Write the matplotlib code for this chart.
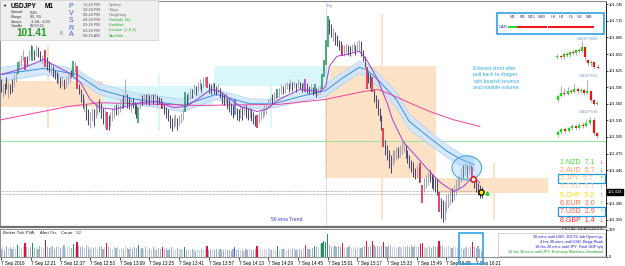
import numpy as np
import matplotlib
matplotlib.use("Agg")
import matplotlib.pyplot as plt
from matplotlib.patches import Rectangle, Ellipse

plt.rcParams['font.family'] = ['Liberation Sans', 'DejaVu Sans']

W, H = 625, 266

# ---- USDJPY M1, 7 Sep 2016 12:05 .. 16:24, prices in thousandths above 101.000 ----
BASE = 101.0
bar_high = [
    609, 600, 603, 613, 605, 600, 609, 618, 623, 640,
    645, 654, 663, 649, 652, 663, 672, 669, 663, 671,
    667, 660, 654, 663, 663, 649, 642, 638, 634, 627,
    623, 620, 613, 616, 609, 613, 618, 623, 627, 642,
    640, 634, 600, 591, 582, 573, 564, 555, 551, 558,
    555, 564, 569, 573, 567, 558, 555, 551, 545, 551,
    558, 562, 565, 564, 573, 576, 580, 609, 582, 578,
    573, 576, 569, 564, 560, 573, 580, 583, 582, 585,
    580, 583, 582, 585, 580, 578, 576, 569, 565, 560,
    555, 545, 540, 544, 547, 540, 545, 549, 555, 587,
    582, 587, 594, 591, 600, 598, 605, 609, 603, 613,
    614, 613, 603, 600, 605, 602, 598, 600, 594, 587,
    582, 585, 576, 573, 567, 562, 573, 558, 555, 564,
    560, 564, 562, 558, 560, 555, 551, 545, 545, 551,
    555, 558, 562, 565, 573, 578, 582, 587, 591, 591,
    594, 600, 598, 602, 605, 603, 609, 605, 607, 603,
    609, 605, 602, 605, 609, 602, 598, 600, 596, 600,
    594, 596, 598, 618, 645, 681, 723, 718, 709, 703,
    694, 689, 681, 678, 672, 671, 674, 672, 669, 674,
    676, 672, 678, 681, 678, 663, 652, 631, 623, 618,
    613, 591, 580, 573, 558, 545, 522, 500, 491, 482,
    473, 482, 482, 487, 486, 491, 496, 500, 491, 482,
    473, 464, 460, 449, 455, 449, 458, 418, 431, 437,
    442, 446, 438, 435, 431, 428, 406, 395, 391, 388,
    400, 404, 409, 413, 418, 428, 433, 437, 449, 455,
    458, 455, 458, 455, 451, 437, 428, 422, 418, 415]
bar_low = [
    587, 578, 582, 591, 576, 582, 587, 596, 605, 618,
    627, 634, 642, 627, 634, 645, 649, 642, 645, 652,
    649, 642, 638, 645, 631, 627, 623, 618, 613, 609,
    602, 600, 594, 598, 591, 594, 600, 605, 613, 616,
    623, 591, 582, 569, 558, 551, 536, 527, 522, 533,
    525, 540, 545, 551, 540, 529, 522, 518, 518, 525,
    533, 540, 544, 545, 551, 555, 558, 565, 558, 555,
    551, 558, 547, 540, 531, 555, 562, 565, 564, 567,
    562, 569, 565, 571, 562, 565, 558, 555, 547, 540,
    533, 522, 515, 522, 525, 518, 525, 531, 536, 551,
    562, 569, 573, 576, 582, 580, 587, 591, 587, 594,
    598, 594, 585, 582, 591, 583, 580, 585, 576, 565,
    562, 565, 555, 551, 545, 540, 544, 536, 533, 540,
    536, 544, 540, 536, 540, 533, 529, 525, 522, 531,
    536, 540, 542, 547, 555, 560, 564, 569, 573, 576,
    578, 582, 583, 585, 591, 587, 591, 589, 594, 587,
    593, 591, 587, 591, 587, 585, 582, 583, 580, 582,
    578, 580, 582, 591, 614, 636, 667, 691, 685, 678,
    672, 669, 663, 654, 651, 652, 656, 654, 651, 658,
    660, 654, 660, 660, 652, 642, 631, 591, 602, 594,
    587, 569, 558, 545, 533, 518, 487, 473, 464, 449,
    440, 455, 460, 464, 467, 469, 475, 478, 467, 458,
    449, 442, 433, 428, 431, 424, 422, 386, 406, 413,
    418, 424, 413, 409, 406, 400, 369, 358, 351, 355,
    369, 377, 382, 388, 391, 400, 409, 415, 424, 431,
    437, 431, 440, 435, 428, 413, 406, 400, 395, 395]
# d = bear, u = bull, r/g = climax, b/m = rising volume (PVSRA)
bar_kind = ("duddudduug" "uuurdudgdu" "dduurddudd" "dududuuudg" "urdddudduu"
            "duudddurdu" "uuduuududd" "udddgududu" "dududddrdd" "ddduuduuug"
            "duududuudu" "urdduddudd" "duddddbddu" "duddudddru" "uuuuuuduug"
            "uuduududud" "uddumddudg" "duuggggddu" "ddddruuddu" "uduudddrdd"
            "rdddddrddd" "duuuduuudd" "ddddudrruu" "udddddrddu" "uuuduuuuud"
            "ududrddddd")
tick_volume = [
    90, 110, 80, 130, 100, 120, 90, 110, 95, 140,
    120, 105, 130, 170, 110, 90, 120, 160, 100, 115,
    95, 130, 110, 90, 205, 120, 100, 110, 130, 95,
    110, 125, 100, 120, 140, 95, 115, 130, 105, 150,
    120, 175, 130, 110, 125, 100, 140, 110, 95, 120,
    105, 115, 90, 110, 130, 95, 120, 170, 110, 100,
    90, 110, 100, 120, 95, 105, 90, 130, 100, 95,
    110, 90, 120, 100, 140, 95, 105, 90, 110, 85,
    100, 95, 110, 90, 85, 105, 95, 120, 90, 100,
    80, 95, 110, 90, 85, 100, 95, 90, 85, 115,
    80, 90, 75, 95, 85, 70, 90, 80, 95, 85,
    90, 130, 85, 95, 80, 75, 90, 85, 95, 80,
    75, 90, 80, 85, 70, 95, 120, 80, 90, 75,
    85, 70, 90, 80, 95, 85, 75, 90, 125, 80,
    90, 85, 95, 80, 100, 90, 85, 95, 80, 130,
    85, 95, 90, 100, 80, 95, 85, 90, 100, 85,
    95, 90, 85, 100, 140, 90, 95, 85, 100, 130,
    110, 120, 150, 165, 190, 175, 280, 140, 120, 110,
    130, 115, 125, 110, 170, 120, 105, 115, 125, 100,
    110, 95, 120, 105, 100, 115, 125, 190, 110, 130,
    190, 140, 120, 130, 115, 125, 180, 130, 120, 140,
    125, 110, 130, 105, 120, 115, 100, 125, 110, 130,
    120, 135, 110, 125, 115, 120, 150, 170, 110, 100,
    115, 120, 105, 125, 110, 130, 190, 140, 125, 120,
    110, 130, 120, 100, 125, 115, 105, 120, 110, 95,
    100, 115, 95, 120, 180, 110, 105, 125, 90, 70]

# moving averages (bar index, thousandths)
fast_idx = [0, 10, 23, 28, 36, 43, 48, 53, 61, 75, 84, 93, 100, 107, 113, 118, 129, 138, 143,
            150, 161, 172, 175, 177, 181, 186, 193, 197, 203, 208, 211, 217, 224, 230, 237,
            244, 249, 253, 255, 258]
fast_val = [618, 627, 645, 636, 622, 603, 573, 558, 555, 567, 569, 558, 560, 576, 591, 587, 560,
            551, 555, 573, 591, 587, 596, 633, 651, 654, 660, 645, 609, 567, 536, 495, 469, 446,
            422, 406, 415, 428, 431, 422]
dragon_idx = [0, 23, 41, 53, 71, 98, 116, 134, 147, 161, 175, 183, 193, 197, 204, 213, 220,
              230, 240, 247, 255]
dragon_mid = [618, 629, 618, 591, 574, 562, 582, 565, 565, 578, 589, 609, 631, 627, 605, 573,
              533, 506, 480, 466, 455]
dragon_hi = [631, 640, 627, 602, 585, 573, 591, 574, 573, 587, 600, 620, 642, 638, 618, 587,
             547, 518, 491, 476, 466]
dragon_lo = [605, 618, 609, 582, 565, 551, 573, 556, 558, 569, 578, 598, 620, 616, 593, 558,
             518, 493, 469, 455, 444]
trend_idx = [0, 36, 53, 107, 150, 175, 195, 203, 210, 222, 231, 244, 258]
trend_val = [536, 560, 567, 562, 564, 573, 587, 591, 582, 564, 551, 536, 524]

# supply / demand zones: first bar, last bar, low, high (thousandths)
zones_peach = [(-0.5, 55, 560, 607), (24.8, 25.9, 522, 672), (174.6, 234.4, 431, 633),
               (204.7, 205.8, 355, 727), (235, 294.7, 404, 431), (265, 266, 355, 458)]
zones_cyan = [(55, 114, 560, 598), (84.6, 85.7, 515, 618), (114.8, 177.3, 598, 634),
              (144.9, 145.9, 522, 598)]

time_ticks = list(range(0, 257, 16))
time_labels = ['7 Sep 2016', '7 Sep 12:21', '7 Sep 12:37', '7 Sep 12:53', '7 Sep 13:09',
               '7 Sep 13:25', '7 Sep 13:41', '7 Sep 13:57', '7 Sep 14:13', '7 Sep 14:29',
               '7 Sep 14:45', '7 Sep 15:01', '7 Sep 15:17', '7 Sep 15:33', '7 Sep 15:49',
               '7 Sep 16:05', '7 Sep 16:21']
price_ticks = [101.745, 101.715, 101.685, 101.655, 101.625, 101.595, 101.565, 101.535,
               101.505, 101.475, 101.445, 101.385, 101.355]

cur_names = ['NZD', 'AUD', 'JPY', 'CAD', 'CHF', 'EUR', 'USD', 'GBP']
cur_strength = [7.1, 5.7, 5.7, 5.1, 5.0, 3.0, 2.9, 1.4]
cur_rising = [False, False, True, True, True, True, True, False]
cur_colors = ['#44e022', '#ff9466', '#ffbb70', '#ffcc99', '#f0dc00', '#ff6a44', '#ff5555', '#ff2a2a']

headlines = ['30 mins until USD: JOLTS Job Openings',
             '4 hrs 30 mins until USD: Beige Book',
             '18 hrs 20 mins until JPY: Final GDP q/q',
             '18 hrs 30 mins until JPY: Economy Watchers Sentiment']

# small multi-timeframe candles (open, close, high, low) in relative units
m15_ohlc = [(14, 15, 17, 12), (15, 14, 16, 12), (14, 17, 19, 12), (17, 16, 19, 14), (16, 19, 20, 14),
            (19, 18, 21, 16), (18, 21, 22, 16), (21, 20, 23, 18), (20, 24, 30, 19), (24, 14, 25, 11),
            (11, 8, 12, 5), (8, 9, 11, 5), (9, 4, 10, 2), (4, 3, 7, 2)]
h1_ohlc = [(8, 12, 14, 6), (12, 15, 22, 11), (15, 14, 20, 12), (14, 17, 21, 13), (17, 16, 19, 14),
           (16, 19, 25, 15), (19, 17, 21, 15), (17, 18, 20, 15), (18, 15, 19, 13), (15, 17, 28, 14),
           (17, 8, 18, 6), (8, 4, 9, 2), (4, 5, 7, 2)]
h4_ohlc = [(6, 9, 11, 4), (9, 12, 13, 7), (12, 10, 14, 8), (10, 13, 15, 9), (13, 15, 17, 11),
           (15, 13, 16, 11), (13, 16, 18, 12), (16, 15, 19, 13), (15, 18, 22, 14), (18, 21, 24, 16),
           (21, 8, 24, 6), (8, 5, 9, 2)]

candle_col = {'d': '#4a4a6e', 'u': '#a8a8b4', 'r': '#dc143c', 'g': '#21925a',
              'b': '#4169e1', 'm': '#9932cc'}
volume_col = {'d': '#a3b1c8', 'u': '#cbd3df', 'r': '#dc143c', 'g': '#21925a',
              'b': '#4169e1', 'm': '#9932cc'}


def px(x, y):
    """screen pixel -> figure fraction"""
    return x / W, 1 - y / H


def p(v):
    return BASE + np.asarray(v) / 1000.0


fig = plt.figure(figsize=(W / 100, H / 100), dpi=100)
fig.patch.set_facecolor('white')

# ---------------- price panel ----------------
ax = fig.add_axes([0, 1 - 227 / H, 606 / W, 226 / H])
ax.set_xlim(-0.5, 326)
ax.set_ylim(101.342, 101.751)

for x0, x1, lo, hi in zones_peach:
    ax.add_patch(Rectangle((x0, p(lo)), x1 - x0, (hi - lo) / 1000, fc='#fde2c6', ec='none', zorder=0))
for x0, x1, lo, hi in zones_cyan:
    ax.add_patch(Rectangle((x0, p(lo)), x1 - x0, (hi - lo) / 1000, fc='#d9f7fb', ec='none', zorder=0))

ax.axhline(101.497, color='#9ee29e', lw=0.8, zorder=1)
for lvl in (101.407, 101.402):
    ax.plot([-0.5, 258], [lvl, lvl], color='#808080', ls=(0, (1, 1)), lw=0.5, zorder=1)
ax.axvline(175.1, color='#a0a0a0', ls=(0, (1.5, 1.5)), lw=0.5, zorder=1)
ax.text(175.6, 101.746, 'Fry', fontsize=3, color='#7b68ee', va='top', zorder=6)

# dragon ribbon and averages
ax.fill_between(dragon_idx, p(dragon_lo), p(dragon_hi), color='#cfe5fa', alpha=0.85, lw=0, zorder=1.5)
ax.plot(dragon_idx, p(dragon_hi), color='#a9cff2', lw=0.5, zorder=1.6)
ax.plot(dragon_idx, p(dragon_lo), color='#a9cff2', lw=0.5, zorder=1.6)
ax.plot(dragon_idx, p(dragon_mid), color='#3b8fe4', lw=0.7, zorder=1.7)
ax.plot(trend_idx, p(trend_val), color='#f23fa0', lw=0.7, zorder=1.8)

idx = np.arange(len(bar_high))
cols = [candle_col[k] for k in bar_kind]
widths = [1.1 if k in 'rgbm' else 0.75 for k in bar_kind]
ax.vlines(idx, p(bar_low), p(bar_high), colors=cols, lw=widths, zorder=3)
ax.plot(fast_idx, p(fast_val), color='#a43ed6', lw=0.7, zorder=3.5)

ax.add_patch(Ellipse((251, 101.449), 16, 0.0435, fc=(0.55, 0.78, 0.98, 0.35), ec='#4aa8e0', lw=0.8, zorder=4))
ax.plot(254.3, 101.429, 'o', ms=3.8, mfc='white', mec='#e02020', mew=1.2, zorder=5)
ax.plot(258.6, 101.406, 'o', ms=3.8, mfc='#ffee00', mec='black', mew=0.9, zorder=5)
ax.plot(261.9, 101.404, '^', ms=2.3, color='#22cc22', zorder=5)

ax.text(145.5, 101.352, '50 ema Trend', fontsize=3.6, color='#3a3ad0', zorder=6)
ax.text(254.5, 101.633, 'Entered short after\npull back to dragon\nwith bearish bounce\nand notable volume.',
        fontsize=3.7, color='#34a8e0', va='top', linespacing=1.3, zorder=6)

ax.yaxis.tick_right()
ax.set_yticks(price_ticks)
ax.set_yticklabels([f'{v:.3f}' for v in price_ticks])
ax.tick_params(axis='y', labelsize=2.9, length=1.5, width=0.5, pad=0.8, colors='black')
ax.set_xticks([])
for s in ('top', 'left'):
    ax.spines[s].set_color('#8c8c8c')
    ax.spines[s].set_linewidth(0.8)
ax.spines['right'].set_color('black')
ax.spines['right'].set_linewidth(0.6)
ax.spines['bottom'].set_color('#707070')
ax.spines['bottom'].set_linewidth(1.6)

# current bid label
fig.text(607.5 / W, 1 - 192 / H, '101.418', fontsize=2.9, color='white', va='center', ha='left',
         bbox=dict(boxstyle='square,pad=0.15', fc='black', ec='black'), zorder=8)

# ---------------- volume panel ----------------
axv = fig.add_axes([0, 1 - 256.5 / H, 606 / W, 27.5 / H])
axv.set_xlim(-0.5, 326)
axv.set_ylim(0, 335)
axv.bar(idx, tick_volume, width=0.62, color=[volume_col[k] for k in bar_kind], lw=0)
axv.yaxis.tick_right()
axv.set_yticks([0, 328])
axv.set_yticklabels(['0', '328'])
axv.tick_params(axis='y', labelsize=2.9, length=1.5, width=0.5, pad=0.8)
axv.set_xticks(time_ticks)
axv.set_xticklabels(time_labels, ha='left')
axv.tick_params(axis='x', labelsize=3.3, length=2, width=0.5, pad=1.5)
for s in ('top', 'left', 'bottom'):
    axv.spines[s].set_color('#8c8c8c')
    axv.spines[s].set_linewidth(0.7)
axv.spines['right'].set_color('black')
axv.spines['right'].set_linewidth(0.6)
axv.text(1, 320, 'Broker Tick PVA:    Alert On,   Count   52', fontsize=3.2, va='top', color='#202020')

# ---------------- overlays in screen space ----------------
def box(x0, y0, x1, y1, **kw):
    fx, fy = px(x0, y1)
    fig.add_artist(Rectangle((fx, fy), (x1 - x0) / W, (y1 - y0) / H, transform=fig.transFigure, **kw))


def label(x, y, s, **kw):
    fx, fy = px(x, y)
    kw.setdefault('va', 'center')
    kw.setdefault('zorder', 9)
    fig.text(fx, fy, s, **kw)


# info panel, top left
box(0, 0, 158, 40, fc='#efefef', ec='#cfcfcf', lw=0.5, zorder=7)
label(2.5, 6, '\u25bc', fontsize=3, color='black')
label(11, 6, 'USDJPY', fontsize=4.7, fontweight='bold', color='black')
label(45, 6, 'M1', fontsize=4.7, fontweight='bold', color='black')
for k, (name, val) in enumerate([('Spread', '0.40'), ('Range', '95, 93'),
                                 ('Swaps', '-3.44, -4.55'), ('Candle', '00:00:11')]):
    label(11, 12.5 + 4.5 * k, name, fontsize=2.8, color='#333333')
    label(30, 12.5 + 4.5 * k, val, fontsize=2.8, color='#333333')
label(16, 33, '101.41', fontsize=7.2, fontweight='bold', color='#1e9a1e')
label(60, 33.5, '8', fontsize=3.5, color='#1e9a1e')
for k, ch in enumerate('PVSRA'):
    label(71, 7 + 7 * k, ch, fontsize=5, color='#3c5ad0', ha='center')
sessions = [('11:24 PM', 'Sydney'), ('10:24 PM', 'Tokyo'), ('09:24 PM', 'HongKong'),
            ('04:24 PM', 'Helsinki  (8)'), ('03:24 PM', 'Frankfurt'), ('02:24 PM', 'London  (L:0-1)'),
            ('09:24 AM', 'NewYork')]
for k, (t, city) in enumerate(sessions):
    c = '#707070' if k < 3 else '#22a522'
    label(83, 5 + 5.1 * k, t, fontsize=2.8, color='#555555')
    label(109, 5 + 5.1 * k, city, fontsize=2.8, color=c)

# multi-timeframe trend box
box(497, 13, 604, 34, fc='white', ec='#1e9be0', lw=1.1, zorder=7)
tfs = ['M1', 'M5', 'M15', 'M30', 'H1', 'H4', 'D1', 'W1', 'MN']
tf_x = [513, 522, 532, 542, 553, 561, 571, 580, 589]
for t, x in zip(tfs, tf_x):
    label(x, 17, t, fontsize=2.9, color='#3a3a9a', ha='center')
label(499, 27, 'CAN', fontsize=3, color='#3a3a9a')
for k, x in enumerate(tf_x):
    fx0, fy0 = px(x - 4, 27)
    fx1, _ = px(x + 3.5, 27)
    fig.add_artist(plt.Line2D([fx0, fx1], [fy0, fy0], transform=fig.transFigure,
                              color='#22dd22' if k == 0 else '#ee1111', lw=1.4, zorder=8))


def mini(ohlc, x0, y0, x1, y1, name, ly):
    fx, fy = px(x0, y1)
    m = fig.add_axes([fx, fy, (x1 - x0) / W, (y1 - y0) / H], zorder=6)
    m.set_axis_off()
    m.patch.set_alpha(0)
    o, c, hi, lo = np.array(ohlc).T
    n = np.arange(len(o))
    m.vlines(n, lo, hi, color='#909090', lw=0.5)
    m.vlines(n, o, c, color=np.where(c >= o, '#11dd11', '#ee1111'), lw=1.6)
    m.set_xlim(-0.8, len(o) - 0.2)
    m.set_ylim(min(lo) - 0.5, max(hi) + 0.5)
    label(598, ly, name, fontsize=2.6, color='#6f8fbf', ha='right')


mini(m15_ohlc, 555, 40, 600, 69, 'USDJPY,M15', 38.5)
mini(h1_ohlc, 555, 80, 600, 106, 'USDJPY,H1', 76)
mini(h4_ohlc, 555, 116, 600, 139, 'USDJPY,H4', 112)

# currency strength
for k, (nm, v, up, c) in enumerate(zip(cur_names, cur_strength, cur_rising, cur_colors)):
    y = 162 + 8.3 * k
    label(560, y, f'{k + 1}.{nm}  {v:.1f}', fontsize=5.0, color=c)
    label(601, y, '\u2191' if up else '\u2193', fontsize=5.0, fontweight='bold',
          color='#11bb11' if up else '#ee1111', ha='center')
box(558, 174, 605, 183, fc='none', ec='#1e9be0', lw=0.9, zorder=9)
box(558, 207, 605, 216, fc='none', ec='#1e9be0', lw=0.9, zorder=9)

# headlines
box(498, 233, 605, 255.5, fc='white', ec='#b0b0b0', lw=0.4, zorder=7)
label(604, 229.5, 'FRCAL HEADLINES:', fontsize=3.2, color='#444444', ha='right')
for k, s in enumerate(headlines):
    label(603, 237 + 5 * k, s, fontsize=2.8, ha='right', color='#1818c8' if k < 3 else '#119911')

# highlight box in volume panel
box(459, 233, 483, 264, fc='none', ec='#1e9be0', lw=1.1, zorder=9)

fig.savefig('out.png', dpi=100)
